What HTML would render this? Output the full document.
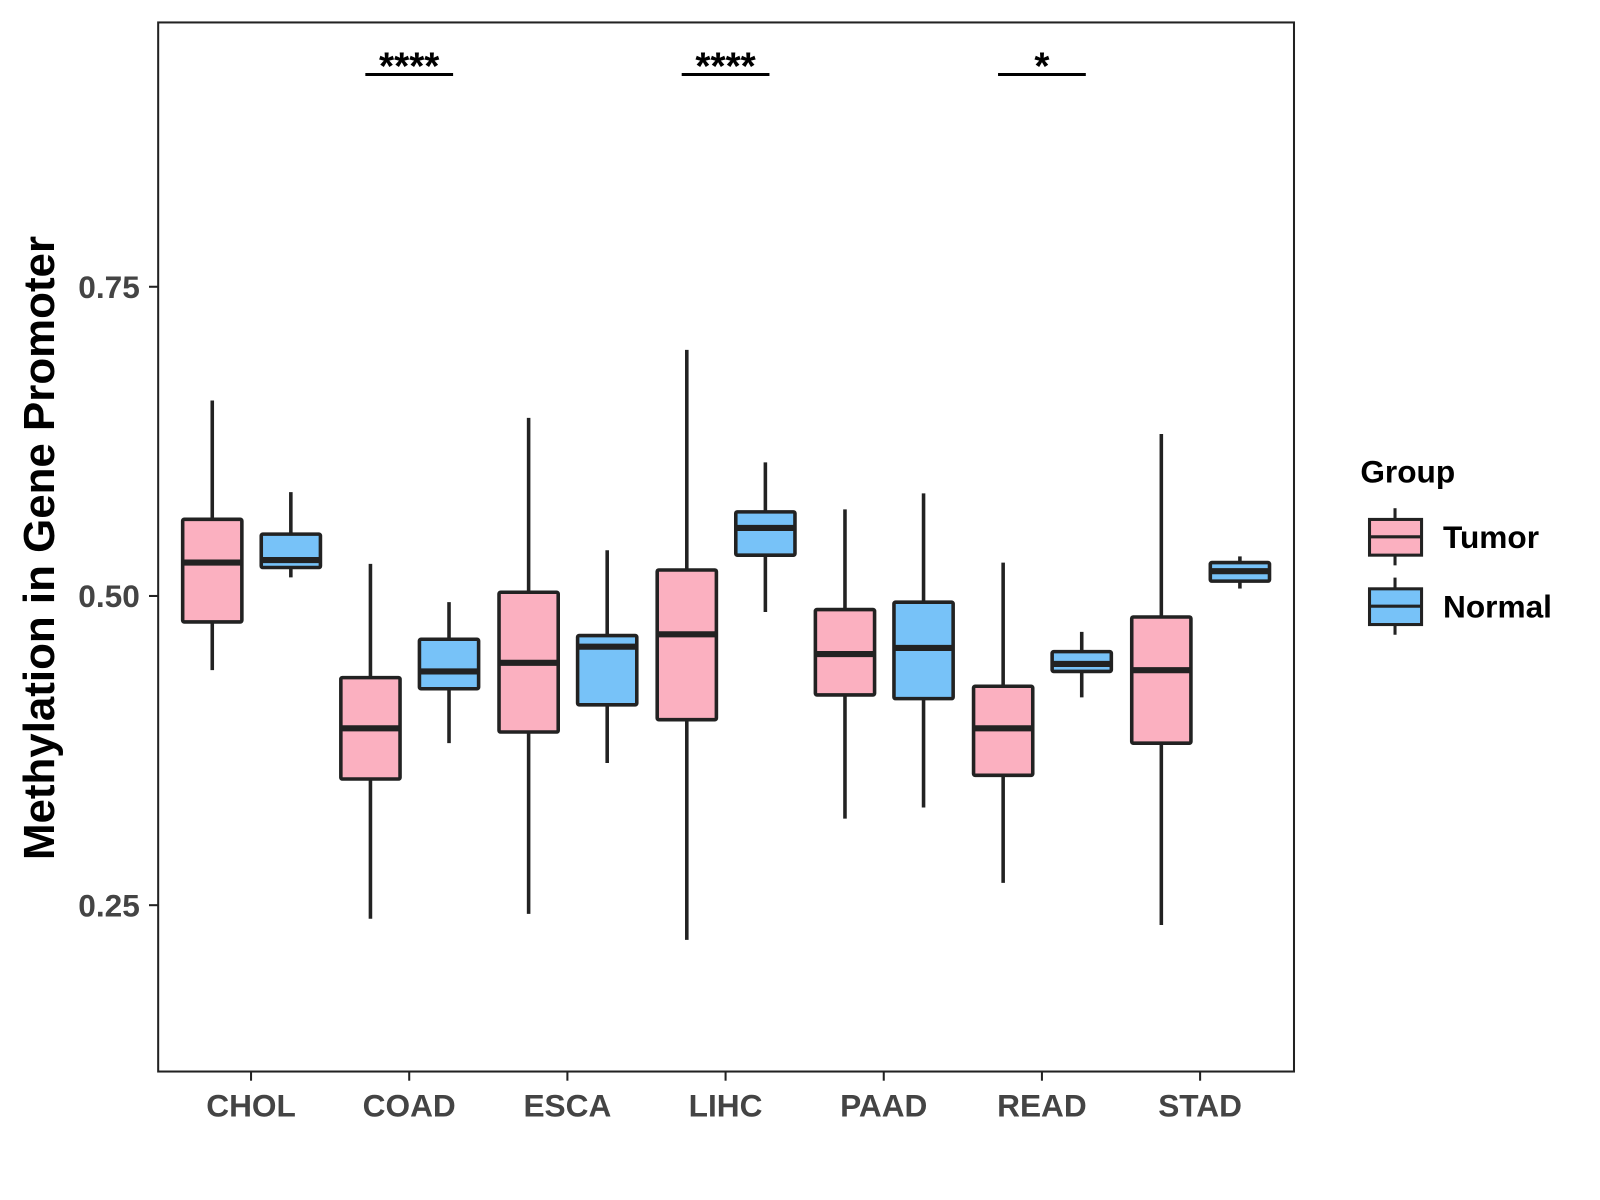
<!DOCTYPE html>
<html><head><meta charset="utf-8"><style>
body{margin:0;background:#fff;}
svg{display:block;font-family:"Liberation Sans",Arial,sans-serif;font-weight:bold;}
</style></head><body>
<svg id="chart" width="1600" height="1200">
<g transform="scale(1.0205)">
<rect x="155" y="22" width="1113" height="1028" fill="#fff" stroke="#222" stroke-width="2"/>
<g id="yaxis"></g>
<g id="xaxis"></g>
<g id="boxes"></g>
<g id="sig"></g>
<text transform="translate(53,537) rotate(-90)" text-anchor="middle" font-size="43" fill="#000">Methylation in Gene Promoter</text>
<g>
<text x="1333" y="473" font-size="31" fill="#000">Group</text>
<g>
<line x1="1367" y1="498" x2="1367" y2="554" stroke="#222" stroke-width="3"/>
<rect x="1342" y="509" width="51" height="35" fill="#FBB0C0" stroke="#222" stroke-width="3"/>
<line x1="1342" y1="526" x2="1393" y2="526" stroke="#222" stroke-width="3"/>
<text x="1414" y="537" font-size="31" fill="#000">Tumor</text></g>
<g>
<line x1="1367" y1="566" x2="1367" y2="622" stroke="#222" stroke-width="3"/>
<rect x="1342" y="577" width="51" height="35" fill="#77C2F8" stroke="#222" stroke-width="3"/>
<line x1="1342" y1="594" x2="1393" y2="594" stroke="#222" stroke-width="3"/>
<text x="1414" y="605" font-size="31" fill="#000">Normal</text></g>
</g>
</g>
</svg>
<script>
const categories=["CHOL","COAD","ESCA","LIHC","PAAD","READ","STAD"];
const tumorStats=[[0.440,0.479,0.527,0.562,0.658],[0.239,0.352,0.393,0.434,0.526],[0.243,0.390,0.446,0.503,0.644],[0.222,0.400,0.469,0.521,0.699],[0.320,0.420,0.453,0.489,0.570],[0.268,0.355,0.393,0.427,0.527],[0.234,0.381,0.440,0.483,0.631]];
const normalStats=[[0.515,0.523,0.529,0.550,0.584],[0.381,0.425,0.439,0.465,0.495],[0.365,0.412,0.459,0.468,0.537],[0.487,0.533,0.555,0.568,0.608],[0.329,0.417,0.458,0.495,0.583],[0.418,0.439,0.445,0.455,0.471],[0.506,0.512,0.520,0.527,0.532]];
const yTicks=[0.25,0.50,0.75];
const yTickLabels=["0.25","0.50","0.75"];
const sigLabels=["","****","","****","","*",""];
const NS="http://www.w3.org/2000/svg";
function y(v){return 584-(v-0.5)*1212;}
function x(i){return 246+i*155;}
function mk(t,a,p,txt){const e=document.createElementNS(NS,t);for(const k in a)e.setAttribute(k,a[k]);if(txt)e.textContent=txt;p.appendChild(e);return e;}
const ya=document.getElementById('yaxis'),xa=document.getElementById('xaxis'),bx=document.getElementById('boxes'),sg=document.getElementById('sig');
yTicks.forEach((t,i)=>{
 const l=mk('line',{x1:146,x2:155,y1:y(t),y2:y(t),stroke:'#222','stroke-width':2},ya);
 
 
 const tx=mk('text',{x:137,y:y(t)+11,'text-anchor':'end','font-size':31,fill:'#444'},ya,yTickLabels[i]);
 
 
});
categories.forEach((c,i)=>{
 const l=mk('line',{x1:x(i),x2:x(i),y1:1050,y2:1059,stroke:'#222','stroke-width':2},xa);
 
 
 const tx=mk('text',{x:x(i),y:1094,'text-anchor':'middle','font-size':31,fill:'#444'},xa,c);
 
 
 [[tumorStats[i],-38,'#FBB0C0','tumor'],[normalStats[i],39,'#77C2F8','normal']].forEach(([s,off,col,nm])=>{
  const cx=x(i)+off,hw=29;
  const g=mk('g',{},bx);
  
  
  mk('line',{x1:cx,x2:cx,y1:y(s[4]),y2:y(s[0]),stroke:'#222','stroke-width':3.5},g);
  mk('rect',{x:cx-hw,y:y(s[3]),width:2*hw,height:y(s[1])-y(s[3]),fill:col,stroke:'#222','stroke-width':3.5,rx:1.5},g);
  mk('line',{x1:cx-hw,x2:cx+hw,y1:y(s[2]),y2:y(s[2]),stroke:'#222','stroke-width':6},g);
 });
 if(sigLabels[i]){
  const l2=mk('line',{x1:x(i)-43,x2:x(i)+43,y1:73,y2:73,stroke:'#000','stroke-width':3},sg);
  
  
  const t2=mk('text',{x:x(i),y:78,'text-anchor':'middle','font-size':38,fill:'#000'},sg,sigLabels[i]);
  
  
 }
});
</script>
</body></html>
